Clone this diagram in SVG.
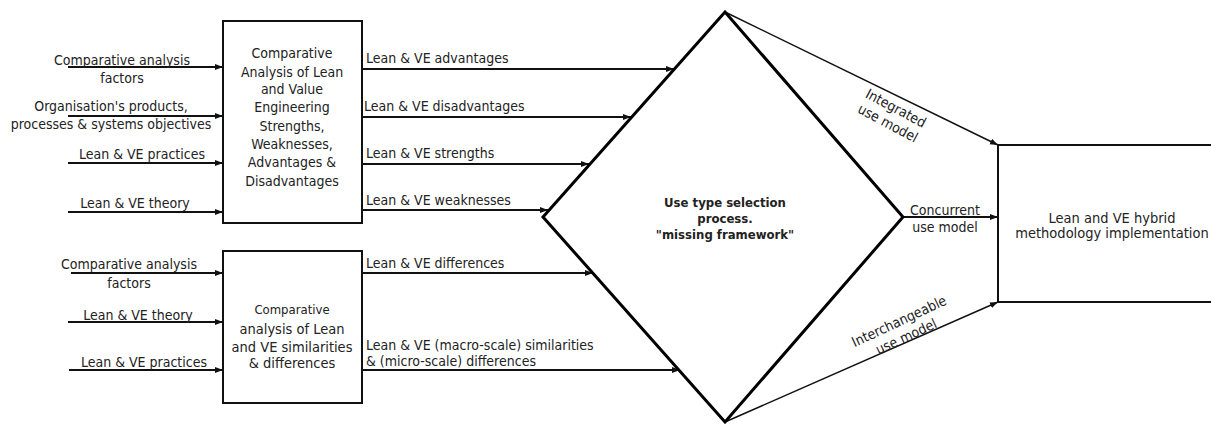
<svg xmlns="http://www.w3.org/2000/svg" width="1211" height="425" viewBox="0 0 1211 425">
  <defs>
    <marker id="arrow" markerUnits="userSpaceOnUse" markerWidth="9" markerHeight="7" refX="8" refY="3" orient="auto">
      <path d="M0,0 L8,3 L0,6 z" fill="#111"/>
    </marker>
    <style>
      .t { font-family: "DejaVu Sans Condensed", "DejaVu Sans", sans-serif; font-stretch: condensed; font-size: 14px; fill: #222; }
      .c { text-anchor: middle; }
      .b { font-weight: bold; font-size: 13px; }
      .box { fill: #fff; stroke: #111; stroke-width: 2; }
      .dia { fill: none; stroke: #000; stroke-width: 3; stroke-linejoin: miter; }
      .arr { stroke: #111; stroke-width: 2; fill: none; marker-end: url(#arrow); }
      .thin { stroke: #111; stroke-width: 1.5; fill: none; marker-end: url(#arrow); }
    </style>
  </defs>
  <rect width="1211" height="425" fill="#fff"/>

  <!-- connectors -->
  <g id="connectors">
    <!-- inputs to the strengths/weaknesses analysis -->
    <line class="arr" x1="68" y1="67" x2="223" y2="67"/>
    <line class="arr" x1="68" y1="116" x2="223" y2="116"/>
    <line class="arr" x1="68" y1="163" x2="223" y2="163"/>
    <line class="arr" x1="68" y1="212" x2="223" y2="212"/>
    <!-- inputs to the similarities/differences analysis -->
    <line class="arr" x1="71" y1="273" x2="223" y2="273"/>
    <line class="arr" x1="68" y1="322" x2="223" y2="322"/>
    <line class="arr" x1="69" y1="370" x2="223" y2="370"/>
    <!-- outputs into the selection process -->
    <line class="arr" x1="362" y1="69" x2="674" y2="69"/>
    <line class="arr" x1="362" y1="117" x2="631" y2="117"/>
    <line class="arr" x1="362" y1="164" x2="589" y2="164"/>
    <line class="arr" x1="362" y1="210" x2="548" y2="210"/>
    <line class="arr" x1="362" y1="273" x2="593" y2="273"/>
    <line class="arr" x1="362" y1="370" x2="680" y2="370"/>
    <!-- use models into the hybrid implementation -->
    <line class="thin" x1="725" y1="12" x2="998" y2="145"/>
    <line class="arr" x1="903" y1="217" x2="998" y2="217"/>
    <line class="thin" x1="725" y1="422" x2="998" y2="302"/>

    <g class="t">
      <text x="366" y="63">Lean &amp; VE advantages</text>
      <text x="364" y="111">Lean &amp; VE disadvantages</text>
      <text x="366" y="158">Lean &amp; VE strengths</text>
      <text x="366" y="205">Lean &amp; VE weaknesses</text>
      <text x="366" y="268">Lean &amp; VE differences</text>
      <text x="366" y="350">Lean &amp; VE (macro-scale) similarities</text>
      <text x="366" y="366">&amp; (micro-scale) differences</text>

      <text class="c" x="122" y="65">Comparative analysis</text>
      <text class="c" x="122" y="83">factors</text>
      <text class="c" x="111" y="111">Organisation's products,</text>
      <text class="c" x="111" y="129">processes &amp; systems objectives</text>
      <text class="c" x="142" y="159">Lean &amp; VE practices</text>
      <text class="c" x="135" y="208">Lean &amp; VE theory</text>

      <text class="c" x="129" y="269">Comparative analysis</text>
      <text class="c" x="129" y="288">factors</text>
      <text class="c" x="138" y="320">Lean &amp; VE theory</text>
      <text class="c" x="144" y="367">Lean &amp; VE practices</text>

      <g transform="translate(896,108) rotate(28)">
        <text class="c" x="0" y="5">Integrated</text>
        <text class="c" x="0" y="22">use model</text>
      </g>
      <text class="c" x="945" y="215">Concurrent</text>
      <text class="c" x="945" y="232">use model</text>
      <g transform="translate(899,321) rotate(-25)">
        <text class="c" x="0" y="5">Interchangeable</text>
        <text class="c" x="0" y="22">use model</text>
      </g>
    </g>
  </g>

  <!-- analysis of strengths, weaknesses, advantages and disadvantages -->
  <g id="analysis-strengths">
    <rect class="box" x="223" y="21" width="139" height="202"/>
    <g class="t c">
      <text x="292" y="58">Comparative</text>
      <text x="292" y="77">Analysis of Lean</text>
      <text x="292" y="94">and Value</text>
      <text x="292" y="112">Engineering</text>
      <text x="292" y="131">Strengths,</text>
      <text x="292" y="149">Weaknesses,</text>
      <text x="292" y="167">Advantages &amp;</text>
      <text x="292" y="186">Disadvantages</text>
    </g>
  </g>

  <!-- analysis of similarities and differences -->
  <g id="analysis-similarities">
    <rect class="box" x="223" y="251" width="139" height="152"/>
    <g class="t c">
      <text x="292" y="314" style="font-size:13px">Comparative</text>
      <text x="292" y="334" style="font-size:14.5px">analysis of Lean</text>
      <text x="292" y="352" style="font-size:14.5px">and VE similarities</text>
      <text x="292" y="368" style="font-size:14.5px">&amp; differences</text>
    </g>
  </g>

  <!-- use type selection process -->
  <g id="selection">
    <polygon class="dia" points="725,12 903,217 725,422 543,217"/>
    <g class="t c b">
      <text x="725" y="207">Use type selection</text>
      <text x="725" y="223">process.</text>
      <text x="725" y="239">"missing framework"</text>
    </g>
  </g>

  <!-- hybrid methodology implementation -->
  <g id="implementation">
    <rect class="box" x="998" y="145" width="230" height="157"/>
    <g class="t c" style="font-size:14.5px">
      <text x="1112" y="223">Lean and VE hybrid</text>
      <text x="1112" y="238">methodology implementation</text>
    </g>
  </g>
</svg>
